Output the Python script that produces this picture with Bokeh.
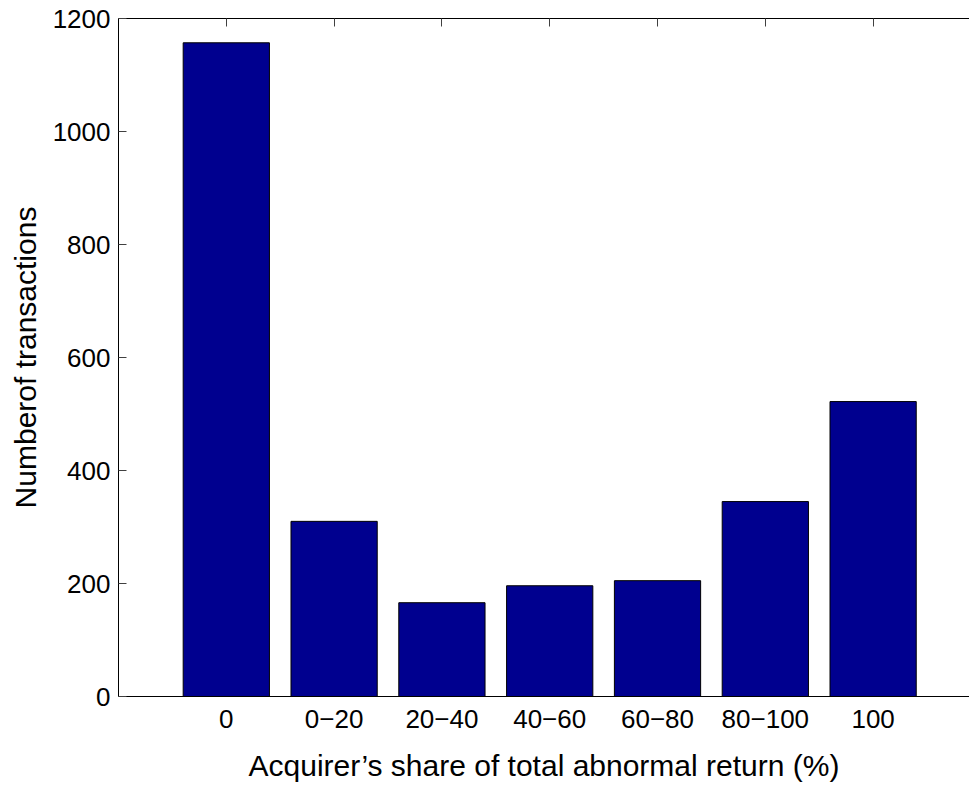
from bokeh.plotting import figure
from bokeh.models import ColumnDataSource, FixedTicker, LinearAxis, Range1d
from bokeh.embed import file_html
from bokeh.resources import INLINE

# Data
categories = ["0", "0\u221220", "20\u221240", "40\u221260", "60\u221280", "80\u2212100", "100"]
counts = [1157, 310, 166, 196, 205, 345, 522]
y_ticks = [0, 200, 400, 600, 800, 1000, 1200]

positions = [i + 1 for i in range(len(categories))]
source = ColumnDataSource(data=dict(x=positions, top=counts, cat=categories))

FONT = "Liberation Sans"
BAR_COLOR = "#00008F"

p = figure(
    width=969, height=785,
    output_backend="svg", toolbar_location=None,
    x_range=Range1d(0, 7.894), y_range=Range1d(0, 1200),
    min_border_left=118, min_border_right=0, min_border_top=18, min_border_bottom=89,
)
p.outline_line_color = None
p.xgrid.visible = False
p.ygrid.visible = False
p.background_fill_color = "white"
p.border_fill_color = "white"

p.vbar(x="x", top="top", bottom=0, width=0.8, source=source,
       fill_color=BAR_COLOR, line_color="black", line_width=1)

# Bottom axis
xa = p.xaxis[0]
xa.ticker = FixedTicker(ticks=positions)
xa.major_label_overrides = {pos: cat for pos, cat in zip(positions, categories)}
xa.major_tick_in = 0
xa.major_tick_out = 0
xa.minor_tick_line_color = None
xa.axis_line_color = "black"
xa.axis_line_width = 1
xa.major_label_text_font = FONT
xa.major_label_text_font_size = "26px"
xa.major_label_text_color = "black"
xa.major_label_standoff = 13
xa.axis_label = "Acquirer\u2019s share of total abnormal return (%)"
xa.axis_label_text_font = FONT
xa.axis_label_text_font_size = "30px"
xa.axis_label_text_font_style = "normal"
xa.axis_label_text_color = "black"
xa.axis_label_standoff = 18

# Left axis
ya = p.yaxis[0]
ya.ticker = FixedTicker(ticks=y_ticks)
ya.major_tick_in = 8
ya.major_tick_out = 0
ya.major_tick_line_color = "#404040"
ya.minor_tick_line_color = None
ya.axis_line_color = "black"
ya.major_label_text_font = FONT
ya.major_label_text_font_size = "26px"
ya.major_label_text_color = "black"
ya.major_label_standoff = 8
ya.axis_label = "Numberof transactions"
ya.axis_label_text_font = FONT
ya.axis_label_text_font_size = "30px"
ya.axis_label_text_font_style = "normal"
ya.axis_label_text_color = "black"
ya.axis_label_standoff = 8

# Top box line with inward ticks
top_axis = LinearAxis(ticker=FixedTicker(ticks=positions))
top_axis.major_tick_in = 8
top_axis.major_tick_out = 0
top_axis.major_tick_line_color = "#404040"
top_axis.minor_tick_line_color = None
top_axis.major_label_text_font_size = "0px"
top_axis.major_label_text_color = None
top_axis.major_label_standoff = 0
top_axis.axis_line_color = "black"
p.add_layout(top_axis, "above")

open("out.html", "w").write(file_html(p, INLINE))
